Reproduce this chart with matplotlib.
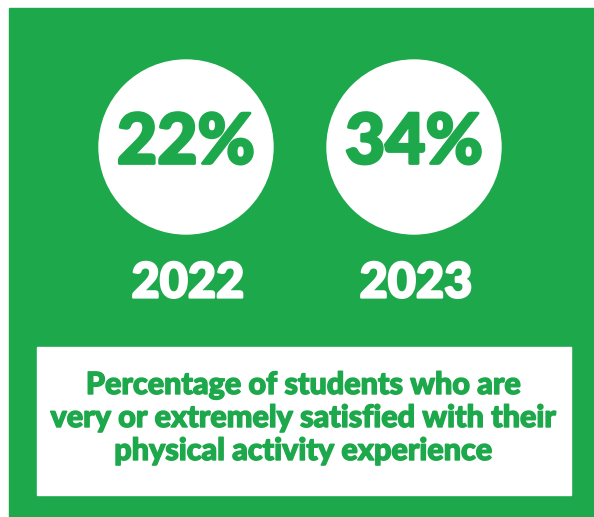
import matplotlib.pyplot as plt
import matplotlib.patheffects as pe
from matplotlib.patches import Circle, Rectangle

# Share of students very/extremely satisfied, by survey year
years = ['2022', '2023']
pct_satisfied = [22, 34]
caption_lines = [
    'Percentage of students who are',
    'very or extremely satisfied with their',
    'physical activity experience',
]

GREEN = '#1da84c'
WHITE = '#ffffff'
FONT = ['Lato', 'DejaVu Sans']


def heavy(color, lw):
    # thicken the strokes a little, Lato bold is lighter than we want
    return [pe.withStroke(linewidth=lw, foreground=color)]


W, H = 594, 517
fig = plt.figure(figsize=(W / 100, H / 100), dpi=100)
ax = fig.add_axes([0, 0, 1, 1])
ax.set_xlim(0, W)
ax.set_ylim(H, 0)
ax.axis('off')
fig.patch.set_facecolor(WHITE)

# green panel
ax.add_patch(Rectangle((9, 8), W - 9, H - 8, color=GREEN, zorder=0))

centers_x = [186, 414]
for cx, yr, pct in zip(centers_x, years, pct_satisfied):
    ax.add_patch(Circle((cx, 147), 87, color=WHITE, zorder=1))
    ax.text(cx, 144, f'{pct}%', ha='center', va='center', color=GREEN,
            fontsize=50, fontweight='black', family=FONT, zorder=2,
            path_effects=heavy(GREEN, 2))
    ax.text(cx + 2, 283, yr, ha='center', va='center', color=WHITE,
            fontsize=35, fontweight='black', family=FONT, zorder=2,
            path_effects=heavy(WHITE, 1.6))

# caption box
ax.add_patch(Rectangle((37, 347), 534, 148, color=WHITE, zorder=1))
for i, line in enumerate(caption_lines):
    ax.text(303, 385 + i * 33, line, ha='center', va='center', color=GREEN,
            fontsize=22, fontweight='black', family=FONT, zorder=2,
            path_effects=heavy(GREEN, 1.0))

fig.savefig('out.png', dpi=100)
